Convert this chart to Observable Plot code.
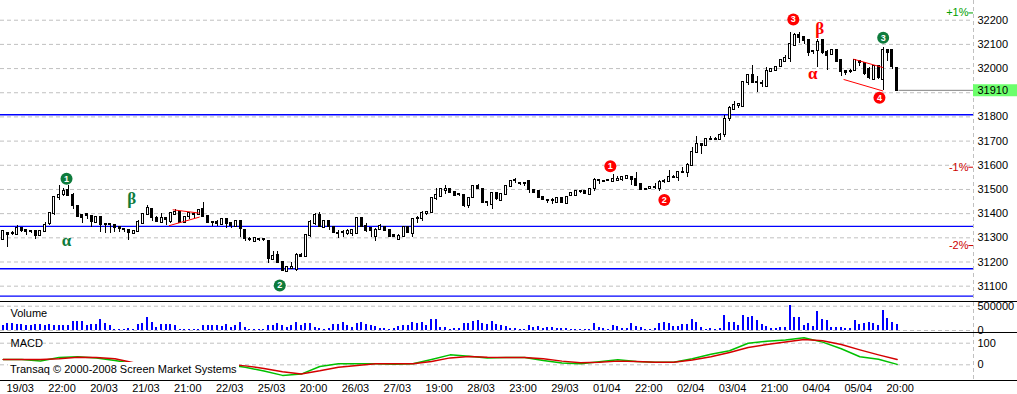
<!DOCTYPE html>
<html><head><meta charset="utf-8">
<script src="https://cdn.jsdelivr.net/npm/d3@7"></script>
<script src="https://cdn.jsdelivr.net/npm/@observablehq/plot@0.6"></script>
<style>
html,body{margin:0;padding:0;background:#fff;}
#chart{position:relative;width:1017px;height:394px;overflow:hidden;font-family:"Liberation Sans",Arial,sans-serif;}
.panel{border-bottom:1px solid #000;}
#chart svg{display:block;}
#copy{position:absolute;left:8px;top:362px;background:#fff;font-size:11px;line-height:15px;padding:0 2px;color:#000;white-space:nowrap;}
</style></head><body><div id="chart"></div>
<script>
const opens = [31294,31316,31319,31314,31337,31330,31328,31326,31308,31326,
31358,31399,31466,31478,31496,31476,31430,31393,31395,31388,
31362,31383,31354,31354,31350,31344,31334,31330,31319,31325,
31358,31395,31416,31381,31362,31379,31368,31397,31406,31362,
31390,31397,31397,31417,31388,31362,31364,31354,31375,31358,
31348,31366,31330,31292,31285,31293,31292,31286,31211,31225,
31196,31160,31175,31167,31225,31224,31308,31358,31393,31342,
31368,31342,31318,31320,31318,31318,31318,31379,31348,31338,
31307,31334,31342,31331,31311,31293,31304,31342,31318,31378,
31379,31401,31406,31461,31472,31497,31500,31488,31479,31475,
31434,31465,31513,31498,31444,31438,31485,31454,31479,31511,
31535,31525,31525,31532,31495,31491,31465,31454,31454,31444,
31461,31443,31475,31477,31490,31490,31479,31506,31536,31533,
31536,31533,31539,31540,31546,31551,31541,31521,31500,31506,
31507,31504,31531,31532,31550,31548,31569,31569,31599,31652,
31684,31683,31706,31707,31706,31728,31792,31831,31849,31842,
31941,31973,31944,31939,31925,31986,31992,32008,32031,32042,
32096,32137,32128,32117,32070,32075,32115,32066,32057,32073,
32032,31986,31987,31993,32028,32021,31997,31955,32007,31955,
32073,32073,32001];
const highs = [31330,31319,31325,31351,31344,31333,31330,31328,31330,31365,
31402,31469,31517,31506,31517,31482,31434,31393,31399,31393,
31388,31386,31358,31361,31351,31347,31340,31333,31328,31372,
31399,31434,31420,31388,31402,31383,31406,31416,31410,31385,
31402,31399,31416,31448,31388,31365,31372,31379,31377,31361,
31372,31369,31333,31300,31296,31296,31294,31289,31245,31245,
31199,31181,31199,31234,31236,31310,31372,31399,31406,31372,
31369,31345,31331,31329,31334,31334,31382,31379,31361,31341,
31338,31356,31345,31334,31311,31314,31345,31345,31378,31389,
31410,31410,31468,31502,31502,31515,31506,31492,31484,31479,
31468,31515,31520,31500,31451,31488,31488,31485,31515,31533,
31544,31529,31529,31536,31495,31492,31468,31458,31461,31464,
31461,31468,31488,31495,31492,31492,31502,31547,31539,31534,
31537,31563,31552,31554,31557,31555,31569,31523,31501,31511,
31525,31537,31540,31579,31559,31576,31590,31606,31672,31717,
31689,31711,31721,31714,31730,31806,31845,31863,31854,31948,
31976,32014,31969,31951,32003,32001,32010,32038,32052,32148,
32147,32148,32134,32117,32075,32121,32118,32073,32076,32076,
32035,31990,31997,32039,32032,32025,32004,32011,32011,32087,
32080,32080,32004];
const lows = [31289,31261,31308,31310,31323,31308,31316,31292,31305,31323,
31351,31393,31455,31469,31469,31416,31386,31358,31375,31341,
31358,31323,31319,31319,31323,31323,31323,31289,31319,31322,
31355,31393,31369,31365,31358,31351,31358,31393,31362,31360,
31377,31379,31393,31386,31361,31347,31348,31351,31337,31337,
31344,31303,31285,31285,31284,31286,31285,31192,31209,31192,
31162,31157,31171,31162,31220,31220,31303,31351,31344,31338,
31331,31318,31297,31301,31311,31307,31315,31342,31324,31301,
31284,31331,31329,31307,31301,31288,31301,31318,31301,31359,
31369,31393,31399,31454,31468,31481,31484,31472,31470,31427,
31420,31461,31498,31443,31430,31416,31454,31451,31475,31509,
31525,31518,31514,31484,31484,31465,31457,31443,31438,31443,
31446,31440,31472,31475,31485,31481,31476,31492,31522,31532,
31535,31533,31533,31534,31543,31517,31511,31497,31499,31500,
31500,31490,31523,31532,31548,31532,31568,31548,31597,31650,
31645,31679,31704,31704,31703,31714,31783,31827,31835,31841,
31928,31937,31900,31923,31925,31983,31990,32006,32028,32024,
32090,32103,32100,32049,32059,32003,32060,31993,32053,32025,
31969,31973,31979,31990,32007,31973,31955,31951,31955,31909,
32029,31997,31907];
const closes = [31326,31314,31319,31337,31330,31326,31327,31310,31326,31351,
31399,31466,31476,31492,31476,31434,31388,31386,31393,31369,
31386,31355,31354,31355,31341,31337,31334,31322,31328,31362,
31395,31420,31386,31368,31379,31375,31399,31406,31364,31383,
31399,31398,31413,31390,31365,31362,31358,31376,31361,31350,
31368,31337,31296,31292,31296,31293,31291,31216,31222,31199,
31164,31178,31176,31225,31221,31308,31364,31393,31348,31368,
31345,31320,31318,31321,31327,31329,31379,31348,31331,31329,
31331,31348,31331,31307,31304,31307,31342,31320,31375,31380,
31402,31403,31461,31475,31498,31498,31488,31475,31478,31434,
31464,31511,31506,31447,31444,31485,31461,31481,31511,31532,
31536,31525,31524,31498,31488,31468,31458,31455,31453,31461,
31447,31465,31484,31492,31490,31484,31499,31539,31537,31533,
31536,31543,31540,31551,31554,31541,31517,31500,31500,31507,
31508,31528,31532,31548,31551,31572,31570,31601,31652,31686,
31683,31707,31707,31706,31723,31790,31835,31849,31850,31944,
31972,31944,31943,31938,31986,31997,32006,32035,32043,32100,
32137,32128,32117,32068,32069,32107,32066,32053,32073,32029,
31987,31985,31988,32032,32027,31979,31962,32007,31962,32076,
32066,32007,31910];
const volumes = [96000,137000,151000,123000,123000,96000,110000,123000,123000,110000,
123000,110000,96000,110000,96000,178000,192000,192000,96000,123000,
123000,219000,137000,96000,27000,14000,14000,41000,14000,123000,
151000,260000,164000,68000,123000,123000,123000,96000,27000,14000,
14000,14000,14000,110000,110000,110000,110000,82000,123000,68000,
96000,164000,68000,27000,14000,14000,27000,110000,96000,151000,
110000,68000,96000,164000,110000,151000,137000,68000,41000,
21000,41000,123000,123000,164000,96000,68000,137000,164000,123000,
110000,82000,41000,41000,27000,41000,82000,96000,110000,164000,
151000,164000,110000,233000,219000,55000,55000,27000,41000,41000,
151000,151000,192000,205000,151000,123000,178000,123000,96000,82000,
41000,41000,27000,14000,96000,68000,82000,41000,55000,55000,
41000,41000,41000,14000,27000,14000,27000,14000,137000,55000,
41000,27000,96000,82000,
41000,41000,137000,82000,55000,14000,14000,41000,137000,164000,
151000,82000,82000,123000,123000,219000,164000,55000,14000,41000,
14000,41000,315000,164000,164000,96000,315000,274000,288000,205000,
123000,82000,41000,41000,55000,55000,514000,274000,274000,110000,
151000,82000,397000,233000,205000,55000,55000,55000,41000,41000,
205000,123000,151000,164000,151000,110000,411000,247000,164000,123000];
// MACD read every 4th bar (bars 0, 4, 8, ... 192)
const macdLine = [25,25,18,34,37,32,20,6,3,9,5,9,0,-11,-29,-49,-43,-8,5,5,5,3,5,25,46,40,31,34,34,20,8,5,14,23,15,12,12,28,49,65,100,109,115,125,105,74,37,26,2];
const signalLine = [25,25,25,28,35,34,28,9,6,5,5,5,2,-5,-17,-32,-43,-28,-11,-3,5,5,5,15,32,38,35,34,34,28,17,9,12,17,15,12,12,22,37,57,80,94,106,117,111,94,69,46,25];
const xLabels = ["19/03","22:00","20/03","21/03","21:00","22/03","25/03","20:00","26/03","27/03","19:00","28/03","23:00","29/03","01/04","22:00","02/04","03/04","21:00","04/04","05/04","20:00"];
const priceTicks = [31100,31200,31300,31400,31500,31600,31700,31800,31900,32000,32100,32200];
const volumeTicks = [0, 500000];
const macdTicks = [0, 100];
const supportLevels = [31809, 31347, 31172, 31059];
const lastPrice = 31910;
const pctValues = [1, -1, -2];
const pctPrices = [32230, 31592, 31268];
const waveLabels = ["1","2","1","2","3","3","4"];
const waveBars = [13.6, 59.4, 130.4, 142.0, 169.7, 189.0, 188.2];
const wavePrices = [31544, 31103, 31596, 31456, 32203, 32127, 31879];
const waveGroup = ["A","A","B","B","B","A","B"];
const greekLabels = ["α","β","α","β"];
const greekBars = [13.6, 27.6, 173.9, 175.4];
const greekPrices = [31289, 31462, 31981, 32164];
const greekGroup = ["A","A","B","B"];
const trendFromBar = [35.6, 36.4, 180.5, 182.6];
const trendFromPrice = [31350, 31416, 31955, 32039];
const trendToBar = [42.2, 42.2, 189.0, 189.0];
const trendToPrice = [31386, 31402, 31907, 32004];
const copyright = "Transaq © 2000-2008 Screen Market Systems";

// ---- build ----
const groupColor = {A: "#0e7b3c", B: "#ff0000"};
const xMax = 208.4, xOuter = 218.5;
const X = {domain: [-0.58, xMax], axis: null};
const font = "Liberation Sans, Arial, sans-serif";
const base = {width: 1017, marginLeft: 0, marginRight: 44, marginTop: 0, marginBottom: 0,
  style: {fontFamily: font, fontSize: "11px", color: "#000", background: "#fff", overflow: "visible"}};
const grid = {stroke: "#c0c0c0", strokeOpacity: 1, strokeDasharray: "4,3"};
const bars = opens.map((o, i) => ({i, o, h: highs[i], l: lows[i], c: closes[i]}));
const waves = waveLabels.map((t, k) => ({t, x: waveBars[k], y: wavePrices[k], g: waveGroup[k]}));
const greeks = greekLabels.map((t, k) => ({t, x: greekBars[k], y: greekPrices[k], g: greekGroup[k]}));
const trends = trendFromBar.map((x1, k) => ({x1, y1: trendFromPrice[k], x2: trendToBar[k], y2: trendToPrice[k]}));
const pcts = pctValues.map((v, k) => ({v, y: pctPrices[k], t: (v > 0 ? "+" : "") + v + "%"}));
const pctColor = d => d.v > 0 ? "#00a000" : "#cc0000";
const axisR = (ticks) => Plot.axisY(ticks, {anchor: "right", tickSize: 0, tickPadding: 4, tickFormat: d => String(d), label: null});
// the tick label hidden behind the last-price box is not shown
const visiblePriceTicks = priceTicks.filter(t => Math.abs(t - lastPrice) > 30);

const main = Plot.plot({
  ...base, height: 301,
  x: X, y: {domain: [31036.6, 32281.5]},
  marks: [
    Plot.ruleY(priceTicks, grid),
    Plot.ruleX([xMax], grid),
    Plot.ruleY(supportLevels, {stroke: "#0000ff", strokeWidth: 1.3}),
    Plot.ruleY([lastPrice], {x1: closes.length - 0.6, x2: xMax, stroke: "#808080"}),
    Plot.ruleX(bars, {x: "i", y1: "l", y2: "h", stroke: "#000", shapeRendering: "crispEdges"}),
    Plot.rect(bars, {x1: d => d.i - 0.215, x2: d => d.i + 0.215, y1: "o", y2: "c",
      fill: d => d.c > d.o ? "#fff" : "#000", stroke: "#000", insetTop: -0.5, insetBottom: -0.5, shapeRendering: "crispEdges"}),
    Plot.link(trends, {x1: "x1", y1: "y1", x2: "x2", y2: "y2", stroke: "#ff0000"}),
    Plot.dot(waves, {x: "x", y: "y", r: 6, fill: d => groupColor[d.g], stroke: null}),
    Plot.text(waves, {x: "x", y: "y", text: "t", fill: "#fff", fontWeight: "bold", fontSize: 9}),
    Plot.text(greeks, {x: "x", y: "y", text: "t", fill: d => groupColor[d.g], fontFamily: "Liberation Serif, serif", fontWeight: "bold", fontSize: 17}),
    Plot.text(pcts, {x: xMax, y: "y", text: "t", textAnchor: "end", dx: -5, fill: pctColor}),
    Plot.ruleY(pcts, {y: "y", x1: xMax - 1, x2: xMax, stroke: pctColor}),
    axisR(visiblePriceTicks),
    Plot.ruleY([lastPrice], {x1: xMax, x2: xOuter, stroke: "#6cff6c", strokeWidth: 12}),
    Plot.text([lastPrice], {x: xMax, y: d => d, text: d => String(d), textAnchor: "start", dx: 4, fill: "#000"})
  ]
});

const vol = Plot.plot({
  ...base, height: 30,
  x: X, y: {domain: [-41000, 576000]},
  marks: [
    Plot.ruleY(volumeTicks, grid),
    Plot.ruleX([xMax], grid),
    Plot.ruleX(volumes, {x: (d, i) => i, y1: 0, y2: d => d, stroke: "#0000ff", strokeWidth: 2, dx: -0.5, shapeRendering: "crispEdges"}),
    Plot.text(["Volume"], {frameAnchor: "top-left", lineAnchor: "top", dx: 10, dy: 7}),
    axisR(volumeTicks)
  ]
});

const macdData = macdLine.map((v, k) => ({x: k * 4, v, s: signalLine[k]}));
const macd = Plot.plot({
  ...base, height: 47,
  x: X, y: {domain: [-72.7, 144.9]},
  marks: [
    Plot.ruleY(macdTicks, grid),
    Plot.ruleX([xMax], grid),
    Plot.line(macdData, {x: "x", y: "v", stroke: "#00c000"}),
    Plot.line(macdData, {x: "x", y: "s", stroke: "#d40000"}),
    Plot.text(["MACD"], {frameAnchor: "top-left", lineAnchor: "top", dx: 10, dy: 6}),
    axisR(macdTicks)
  ]
});

const axis = Plot.plot({
  ...base, height: 13,
  x: X, y: {axis: null},
  marks: [
    Plot.text(xLabels, {x: (d, k) => 3.65 + 9 * k, frameAnchor: "middle", text: d => d})
  ]
});

const root = document.getElementById("chart");
for (const [svg, border] of [[main, true], [vol, true], [macd, true], [axis, false]]) {
  const d = document.createElement("div");
  if (border) d.className = "panel";
  d.appendChild(svg);
  root.appendChild(d);
}
const cp = document.createElement("div");
cp.id = "copy";
cp.textContent = copyright;
root.appendChild(cp);
</script></body></html>
